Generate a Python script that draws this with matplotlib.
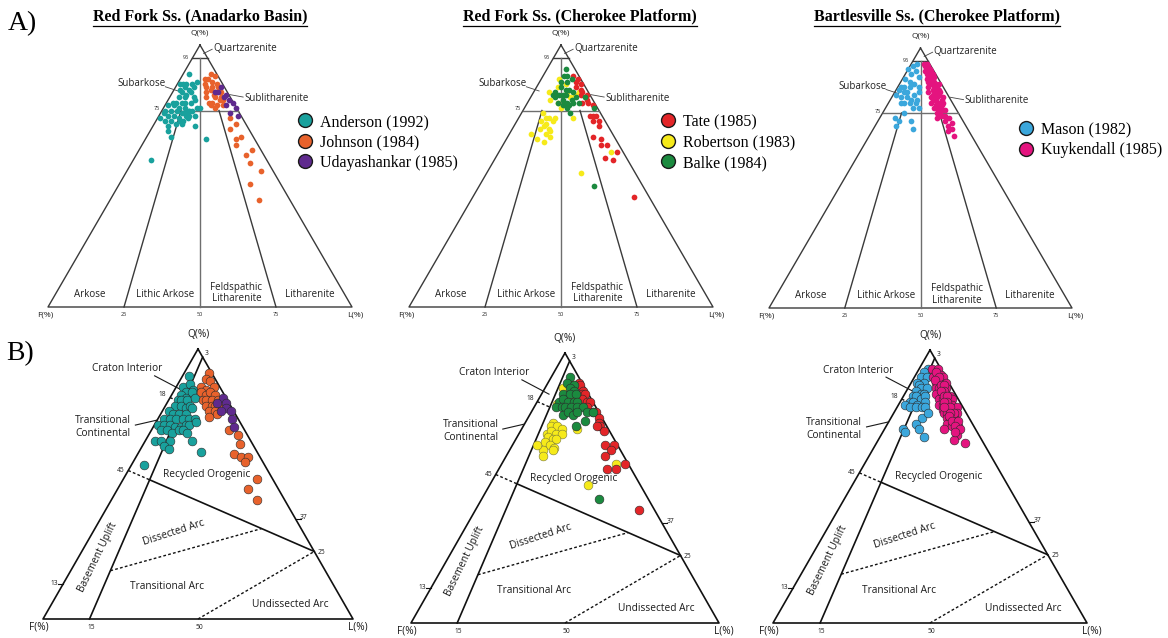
import matplotlib.pyplot as plt
from matplotlib.lines import Line2D
import numpy as np

# ---- sample compositions, percent (Q, F, L) ----
# Folk (1974) classification, top row
anderson_folk = [
    (89, 9, 2), (85, 14, 1), (85, 13, 2), (85, 12, 3), (85, 10, 5), (86, 8, 6), (83, 15, 2), (84, 13, 3),
    (83, 12, 5), (84, 10, 6), (82, 15, 3), (81, 14, 5), (82, 12, 6), (80, 17, 3), (80, 15, 5), (80, 12, 8),
    (78, 20, 2), (78, 19, 3), (78, 17, 5), (78, 16, 6), (78, 14, 8), (79, 12, 9), (77, 22, 1), (77, 20, 3),
    (76, 19, 5), (76, 17, 7), (75, 16, 9), (75, 15, 10), (76, 13, 11), (75, 24, 1), (74, 25, 1), (75, 22, 3),
    (75, 20, 5), (74, 19, 7), (75, 17, 8), (75, 16, 9), (76, 12, 12), (72, 27, 1), (73, 24, 3), (73, 22, 5),
    (72, 21, 7), (73, 18, 9), (73, 17, 10), (71, 26, 3), (71, 24, 5), (71, 21, 8), (71, 20, 9), (72, 18, 10),
    (73, 15, 12), (69, 26, 5), (70, 23, 7), (70, 21, 9), (67, 27, 6), (65, 27, 8), (69, 17, 14), (64, 16, 20),
    (56, 38, 6)]
johnson_folk = [
    (89, 2, 9), (88, 1, 11), (87, 5, 8), (87, 4, 9), (86, 3, 11), (85, 2, 13), (85, 6, 9), (84, 6, 10),
    (84, 4, 12), (84, 2, 14), (82, 7, 11), (83, 5, 12), (82, 4, 14), (82, 2, 16), (80, 8, 12), (81, 5, 14),
    (80, 5, 15), (80, 3, 17), (78, 8, 14), (78, 7, 15), (79, 4, 17), (79, 3, 18), (77, 8, 15), (77, 6, 17),
    (77, 4, 19), (76, 7, 17), (72, 4, 24), (70, 3, 27), (68, 6, 26), (65, 4, 31), (64, 6, 30), (62, 7, 31),
    (58, 6, 36), (60, 3, 37), (55, 6, 39), (52, 4, 44), (47, 10, 43), (41, 10, 49)]
udaya_folk = [
    (84, 1, 15), (82, 3, 15), (81, 1, 18), (80, 2, 18), (79, 1, 20), (78, 0, 22), (77, 3, 20), (76, 0, 24),
    (73, 1, 26), (74, 3, 23), (82, 4, 14)]
tate_folk = [
    (88, 2, 10), (87, 1, 12), (86, 2, 12), (85, 1, 14), (84, 3, 13), (83, 2, 15), (82, 2, 16), (81, 3, 16),
    (81, 1, 18), (79, 2, 19), (78, 4, 18), (78, 2, 20), (77, 1, 22), (73, 4, 23), (73, 3, 24), (73, 2, 25),
    (71, 4, 25), (71, 2, 27), (69, 3, 28), (65, 7, 28), (64, 5, 31), (62, 4, 34), (62, 6, 32), (57, 7, 36),
    (56, 5, 39), (59, 2, 39), (42, 5, 53)]
robertson_folk = [
    (87, 7, 6), (84, 9, 7), (85, 6, 9), (82, 13, 5), (79, 14, 7), (78, 12, 10), (82, 7, 11), (80, 7, 13),
    (81, 5, 14), (76, 12, 12), (72, 10, 18), (82, 3, 15), (74, 19, 7), (72, 19, 9), (72, 18, 10), (72, 16, 12),
    (71, 21, 8), (70, 20, 10), (71, 17, 12), (69, 21, 10), (68, 20, 12), (68, 23, 9), (67, 20, 13), (66, 22, 12),
    (66, 27, 7), (64, 26, 10), (63, 24, 13), (65, 21, 14), (59, 4, 37), (51, 18, 31)]
balke_folk = [
    (91, 3, 6), (88, 5, 7), (88, 4, 8), (86, 7, 7), (86, 5, 9), (87, 3, 10), (82, 11, 7), (84, 8, 8),
    (83, 7, 10), (83, 6, 11), (80, 12, 8), (81, 10, 9), (81, 9, 10), (81, 8, 11), (82, 5, 13), (78, 12, 10),
    (79, 10, 11), (78, 9, 13), (79, 7, 14), (80, 5, 15), (77, 11, 12), (77, 9, 14), (78, 7, 15), (78, 5, 17),
    (80, 2, 18), (76, 1, 23), (74, 10, 16), (76, 10, 14), (81, 12, 7), (46, 16, 38)]
mason_folk = [
    (93, 6, 1), (94, 4, 2), (92, 8, 0), (91, 6, 3), (90, 8, 2), (89, 6, 5), (88, 11, 1), (87, 10, 3),
    (86, 9, 5), (85, 8, 7), (85, 14, 1), (85, 13, 2), (85, 11, 4), (84, 15, 1), (83, 14, 3), (83, 13, 4),
    (82, 11, 7), (83, 9, 8), (82, 17, 1), (81, 16, 3), (81, 14, 5), (80, 13, 7), (80, 11, 9), (79, 17, 4),
    (79, 16, 5), (79, 14, 7), (79, 12, 9), (77, 12, 11), (77, 14, 9), (73, 22, 5), (72, 21, 7), (70, 23, 7),
    (75, 18, 7), (72, 17, 11), (69, 18, 13)]
kuykendall_folk = [
    (94, 2, 4), (94, 1, 5), (93, 2, 5), (92, 1, 7), (91, 3, 6), (91, 1, 8), (90, 1, 9), (89, 3, 8),
    (89, 2, 9), (89, 1, 10), (87, 4, 9), (87, 3, 10), (86, 2, 12), (85, 5, 10), (85, 3, 12), (85, 2, 13),
    (86, 1, 13), (83, 6, 11), (83, 4, 13), (83, 3, 14), (83, 2, 15), (81, 6, 13), (81, 5, 14), (81, 4, 15),
    (81, 2, 17), (79, 7, 14), (79, 5, 16), (79, 4, 17), (79, 3, 18), (77, 7, 16), (77, 6, 17), (77, 5, 18),
    (75, 7, 18), (75, 6, 19), (76, 4, 20), (73, 8, 19), (74, 6, 20), (73, 4, 23), (71, 4, 25), (70, 6, 24),
    (69, 5, 26), (68, 7, 25), (66, 6, 28), (93, 1, 6), (92, 2, 6), (90, 2, 8), (90, 3, 7), (88, 2, 10),
    (88, 4, 8), (87, 2, 11), (86, 3, 11), (86, 4, 10), (84, 4, 12), (84, 2, 14), (82, 3, 15), (82, 5, 13),
    (80, 3, 17), (80, 5, 15), (80, 6, 14), (78, 4, 18), (78, 6, 16), (76, 5, 19), (76, 6, 18), (74, 5, 21),
    (74, 7, 19), (72, 6, 22)]

# Dickinson (1983) provenance, bottom row
anderson_dick = [
    (90, 8, 2), (86, 12, 2), (87, 9, 4), (85, 9, 6), (84, 12, 4), (83, 14, 3), (82, 13, 5), (84, 10, 6),
    (81, 16, 3), (81, 15, 4), (81, 13, 6), (82, 10, 8), (79, 18, 3), (79, 16, 5), (78, 15, 7), (79, 13, 8),
    (77, 21, 2), (76, 20, 4), (76, 18, 6), (76, 16, 8), (78, 13, 9), (74, 24, 2), (74, 22, 4), (74, 20, 6),
    (74, 18, 8), (74, 16, 10), (74, 14, 12), (72, 27, 1), (72, 25, 3), (72, 23, 5), (71, 22, 7), (71, 20, 9),
    (72, 18, 10), (72, 17, 11), (73, 14, 13), (70, 27, 3), (70, 25, 5), (69, 24, 7), (70, 21, 9), (70, 20, 10),
    (69, 19, 12), (66, 31, 3), (66, 29, 5), (66, 26, 8), (66, 19, 15), (64, 29, 7), (63, 28, 9), (62, 18, 20),
    (57, 39, 4)]
johnson_dick = [
    (91, 1, 8), (89, 3, 8), (88, 2, 10), (86, 6, 8), (85, 5, 10), (86, 2, 12), (84, 7, 9), (83, 6, 11),
    (84, 4, 12), (83, 3, 14), (81, 8, 11), (81, 7, 12), (81, 5, 14), (81, 3, 16), (79, 8, 13), (79, 6, 15),
    (79, 5, 16), (79, 3, 18), (77, 8, 15), (77, 6, 17), (76, 6, 18), (75, 9, 16), (70, 5, 25), (68, 3, 29),
    (65, 4, 31), (61, 8, 31), (60, 6, 34), (60, 4, 36), (58, 6, 36), (52, 5, 43), (48, 10, 42), (44, 9, 47)]
udaya_dick = [(82, 1, 17), (80, 4, 16), (80, 1, 19), (78, 2, 20), (77, 4, 19), (77, 1, 22), (74, 2, 24), (71, 3, 26)]
tate_dick = [
    (89, 1, 10), (88, 1, 11), (86, 1, 13), (85, 2, 13), (85, 1, 14), (83, 3, 14), (82, 2, 16), (82, 1, 17),
    (80, 3, 17), (78, 2, 20), (78, 1, 21), (76, 1, 23), (74, 2, 24), (73, 2, 25), (71, 2, 27), (73, 3, 24),
    (66, 4, 30), (66, 1, 33), (64, 3, 33), (62, 6, 32), (57, 8, 35), (57, 5, 38), (59, 1, 40), (42, 5, 53)]
robertson_dick = [
    (87, 7, 6), (88, 3, 9), (83, 7, 10), (83, 5, 12), (81, 12, 7), (72, 10, 18), (74, 17, 9), (73, 18, 9),
    (73, 16, 11), (72, 15, 13), (70, 21, 9), (71, 19, 10), (70, 18, 12), (70, 16, 14), (69, 21, 10), (68, 20, 12),
    (68, 19, 13), (67, 23, 10), (66, 22, 12), (65, 21, 14), (64, 25, 11), (64, 22, 14), (62, 26, 12), (66, 26, 8),
    (59, 4, 37), (51, 17, 32)]
balke_dick = [
    (91, 3, 6), (89, 5, 6), (88, 3, 9), (87, 5, 8), (86, 4, 10), (85, 8, 7), (85, 6, 9), (85, 4, 11),
    (82, 11, 7), (83, 9, 8), (82, 8, 10), (82, 6, 12), (82, 5, 13), (80, 13, 7), (80, 11, 9), (80, 10, 10),
    (80, 8, 12), (80, 6, 14), (80, 4, 16), (77, 12, 11), (78, 10, 12), (77, 9, 14), (78, 7, 15), (78, 4, 18),
    (78, 2, 20), (75, 6, 19), (73, 10, 17), (46, 16, 38)]
mason_dick = [
    (93, 4, 3), (92, 6, 2), (90, 8, 2), (90, 6, 4), (88, 10, 2), (88, 8, 4), (87, 10, 3), (86, 10, 4),
    (86, 8, 6), (85, 12, 3), (84, 11, 5), (84, 10, 6), (83, 14, 3), (83, 13, 4), (82, 12, 6), (83, 10, 7),
    (81, 16, 3), (81, 15, 4), (80, 14, 6), (81, 11, 8), (80, 18, 2), (79, 17, 4), (79, 15, 6), (79, 13, 8),
    (79, 12, 9), (75, 15, 10), (77, 12, 11), (73, 18, 9), (71, 23, 6), (70, 23, 7), (71, 18, 11), (68, 18, 14)]
kuykendall_dick = [
    (93, 3, 4), (93, 1, 6), (91, 3, 6), (91, 2, 7), (91, 1, 8), (90, 4, 6), (89, 3, 8), (90, 1, 9),
    (88, 4, 8), (88, 3, 9), (88, 1, 11), (86, 5, 9), (86, 4, 10), (86, 2, 12), (84, 6, 10), (84, 4, 12),
    (84, 3, 13), (83, 2, 15), (82, 6, 12), (82, 5, 13), (82, 4, 14), (82, 2, 16), (80, 7, 13), (80, 6, 14),
    (80, 4, 16), (80, 3, 17), (78, 7, 15), (79, 5, 16), (78, 5, 17), (79, 2, 19), (77, 7, 16), (77, 6, 17),
    (76, 5, 19), (77, 3, 20), (75, 7, 18), (75, 6, 19), (75, 5, 20), (73, 8, 19), (73, 6, 21), (73, 5, 22),
    (71, 10, 19), (72, 7, 21), (72, 5, 23), (69, 7, 24), (67, 9, 24), (66, 6, 28), (92, 2, 6), (90, 2, 8),
    (89, 4, 7), (87, 3, 10), (87, 2, 11), (85, 3, 12), (85, 4, 11), (83, 4, 13), (83, 3, 14), (81, 4, 15),
    (81, 5, 14), (79, 4, 17), (79, 6, 15), (77, 4, 19), (77, 5, 18), (76, 6, 18), (74, 6, 20), (74, 4, 22),
    (72, 6, 22), (71, 5, 24), (70, 7, 23)]

titles = ["Red Fork Ss. (Anadarko Basin)", "Red Fork Ss. (Cherokee Platform)",
          "Bartlesville Ss. (Cherokee Platform)"]
groups = [
    [("Anderson (1992)", "#19a19d", anderson_folk, anderson_dick),
     ("Johnson (1984)", "#e8622c", johnson_folk, johnson_dick),
     ("Udayashankar (1985)", "#5f2a8e", udaya_folk, udaya_dick)],
    [("Tate (1985)", "#e32528", tate_folk, tate_dick),
     ("Robertson (1983)", "#f6ea1a", robertson_folk, robertson_dick),
     ("Balke (1984)", "#1b8a3f", balke_folk, balke_dick)],
    [("Mason (1982)", "#3ba7dc", mason_folk, mason_dick),
     ("Kuykendall (1985)", "#e4147f", kuykendall_folk, kuykendall_dick)],
]
draw_order = [[0, 1, 2], [1, 0, 2], [0, 1]]

W, H = 1168, 638
SQ = np.sqrt(3) / 2
SANS = "Open Sans"
SERIF = "Liberation Serif"


def xy(pts):
    a = np.asarray(pts, dtype=float)
    a = a / a.sum(axis=1, keepdims=True) * 100
    return a[:, 2] + a[:, 0] / 2, a[:, 0] * SQ


def meet(a0, a1, b0, b1):
    (x1, x2), (y1, y2) = xy([a0, a1])
    (x3, x4), (y3, y4) = xy([b0, b1])
    d = (x1 - x2) * (y3 - y4) - (y1 - y2) * (x3 - x4)
    t = ((x1 - x3) * (y3 - y4) - (y1 - y3) * (x3 - x4)) / d
    return x1 + t * (x2 - x1), y1 + t * (y2 - y1)


def panel_axes(fig, x_f, x_l, y_base, y_apex):
    # axes placed so the triangle lands on the given pixel corners
    sx = (x_l - x_f) / 100
    sy = (y_base - y_apex) / (100 * SQ)
    x0, x1, y0, y1 = -25, 125, -12, 100
    ax = fig.add_axes([(x_f + x0 * sx) / W, 1 - (y_base - y0 * sy) / H,
                       (x1 - x0) * sx / W, (y1 - y0) * sy / H])
    ax.set_xlim(x0, x1)
    ax.set_ylim(y0, y1)
    ax.axis("off")
    ax.patch.set_alpha(0)
    return ax


def seg(ax, p0, p1, **kw):
    x, y = xy([p0, p1])
    ax.plot(x, y, **kw)


def draw_folk(ax):
    dark = dict(color="#3a3a3a", lw=1.0)
    grey = dict(color="#6e6e6e", lw=1.0)
    x, y = xy([(100, 0, 0), (0, 100, 0), (0, 0, 100), (100, 0, 0)])
    ax.plot(x, y, **dark)
    seg(ax, (95, 5, 0), (95, 0, 5), **dark)
    seg(ax, (75, 25, 0), (75, 0, 25), **grey)
    seg(ax, (0, 50, 50), (95, 2.5, 2.5), **grey)
    seg(ax, (0, 75, 25), (75, 18.75, 6.25), **dark)
    seg(ax, (0, 25, 75), (75, 6.25, 18.75), **dark)

    t = dict(family=SANS, fontsize=7, color="#222222", ha="center", va="center")
    s = dict(family=SANS, fontsize=4, color="#222222", ha="center", va="center")
    lead = dict(color="#444444", lw=0.6)
    ax.text(50, 90.5, "Q(%)", **{**t, "fontsize": 6})
    ax.text(54.3, 85.3, "Quartzarenite", **{**t, "ha": "left"})
    ax.plot([51.2, 54.0], [83.8, 85.2], **lead)
    ax.text(46.3, 82.6, "95", **{**s, "ha": "right"})
    ax.text(30.8, 73.8, "Subarkose", **t)
    ax.plot([38.6, 42.8], [72.8, 71.4], **lead)
    ax.text(64.6, 69.0, "Sublitharenite", **{**t, "ha": "left"})
    ax.plot([59.8, 64.2], [70.2, 69.4], **lead)
    ax.text(36.8, 65.6, "75", **{**s, "ha": "right"})
    ax.text(13.8, 4.0, "Arkose", **t)
    ax.text(38.5, 4.0, "Lithic Arkose", **t)
    ax.text(62.0, 4.6, "Feldspathic\nLitharenite", linespacing=1.1, **t)
    ax.text(86.2, 4.0, "Litharenite", **t)
    ax.text(-1.0, -2.7, "F(%)", **{**t, "fontsize": 6})
    for v in (25, 50, 75):
        ax.text(v, -2.4, str(v), **s)
    ax.text(101.0, -2.7, "L(%)", **{**t, "fontsize": 6})


def draw_dickinson(ax):
    solid = dict(color="#111111", lw=1.2)
    dash = dict(color="#111111", lw=1.0, ls=(0, (2.0, 1.6)))
    x, y = xy([(100, 0, 0), (0, 100, 0), (0, 0, 100), (100, 0, 0)])
    ax.plot(x, y, **solid)
    b15, t3 = (0, 85, 15), (97, 0, 3)
    seg(ax, b15, t3, **solid)

    # recycled orogen / magmatic arc boundary
    q55, q25 = (55, 45, 0), (25, 0, 75)
    px, py = meet(q55, q25, b15, t3)
    (lx, rx), (ly, ry) = xy([q55, q25])
    ax.plot([lx, px], [ly, py], **dash)
    ax.plot([px, rx], [py, ry], **solid)

    # craton interior / transitional continental
    q82 = (82, 18, 0)
    cx, cy = meet(q82, (70, 0, 30), b15, t3)
    (ax0,), (ay0,) = xy([q82])
    ax.plot([ax0, cx], [ay0, cy], **dash)

    # dissected / transitional arc
    q13, q37 = (13, 87, 0), (37, 0, 63)
    d0 = meet(q13, q37, b15, t3)
    d1 = meet(q13, q37, q55, q25)
    ax.plot([d0[0], d1[0]], [d0[1], d1[1]], **dash)

    # transitional / undissected arc
    seg(ax, (0, 50, 50), q25, **dash)

    (tx0, tx1), (ty0, ty1) = xy([q13, q37])
    ax.plot([tx0 - 1.6, tx0], [ty0, ty0], color="#111111", lw=0.8)
    ax.plot([tx1, tx1 + 1.6], [ty1, ty1], color="#111111", lw=0.8)

    t = dict(family=SANS, fontsize=7.3, color="#1a1a1a", ha="center", va="center")
    s = dict(family=SANS, fontsize=4.8, color="#1a1a1a", ha="center", va="center")
    lead = dict(color="#1a1a1a", lw=0.8)
    ax.text(50, 91.2, "Q(%)", **t)
    ax.text(52.0, 85.2, "3", **{**s, "ha": "left"})
    ax.text(27.0, 80.2, "Craton Interior", **t)
    ax.plot([36.0, 44.8], [78.0, 73.4], **lead)
    ax.text(39.8, 72.0, "18", **{**s, "ha": "right"})
    ax.text(19.4, 61.6, "Transitional\nContinental", linespacing=1.25, **t)
    ax.plot([29.8, 36.8], [62.2, 63.8], **lead)
    ax.text(26.4, 47.7, "45", **{**s, "ha": "right"})
    ax.text(52.8, 46.5, "Recycled Orogenic", **t)
    ax.text(17.6, 19.8, "Basement Uplift", rotation=64, **t)
    ax.text(42.0, 27.6, "Dissected Arc", rotation=18, **t)
    ax.text(40.0, 10.4, "Transitional Arc", **t)
    ax.text(79.6, 4.5, "Undissected Arc", **t)
    ax.text(-1.4, -2.6, "F(%)", **t)
    ax.text(15.5, -2.6, "15", **s)
    ax.text(50.5, -2.6, "50", **s)
    ax.text(101.6, -2.6, "L(%)", **t)
    ax.text(tx1 + 1.4, ty1 + 0.6, "37", **{**s, "ha": "left"})
    ax.text(88.6, 21.4, "25", **{**s, "ha": "left"})
    ax.text(tx0 - 1.6, ty0, "13", **{**s, "ha": "right"})


fig = plt.figure(figsize=(W / 100, H / 100), dpi=100)
fig.patch.set_facecolor("white")

top_px = [(48, 352, 307, 45), (409, 713, 307, 45), (769, 1072, 308, 48)]
bot_px = [(43, 353, 619, 349), (411, 719, 623, 353), (773, 1087, 623, 350)]
legend_px = [(297, 114), (660, 114), (1018, 122)]
title_x = [200, 580, 937]

for i in range(3):
    ax_a = panel_axes(fig, *top_px[i])
    draw_folk(ax_a)
    ax_b = panel_axes(fig, *bot_px[i])
    draw_dickinson(ax_b)
    for k in draw_order[i]:
        name, color, folk_pts, dick_pts = groups[i][k]
        x, y = xy(folk_pts)
        ax_a.scatter(x, y, s=17, color=color, linewidths=0, zorder=3)
        x, y = xy(dick_pts)
        edge = "#7a7a3a" if color == "#f6ea1a" else "#2a2a2a"
        ax_b.scatter(x, y, s=40, color=color, edgecolors=edge, linewidths=0.4, zorder=3)

    handles = [Line2D([], [], ls="none", marker="o", markersize=10, markerfacecolor=c,
                      markeredgecolor="#1a1a1a", markeredgewidth=1.0) for _, c, _, _ in groups[i]]
    fig.legend(handles, [g[0] for g in groups[i]], loc="upper left",
               bbox_to_anchor=(legend_px[i][0] / W, 1 - legend_px[i][1] / H),
               frameon=False, prop={"family": SERIF, "size": 11.5}, handlelength=1.0,
               handletextpad=0.45, labelspacing=0.28, borderpad=0, borderaxespad=0)

title_texts = [fig.text(title_x[i] / W, 1 - 16 / H, titles[i], family=SERIF, fontsize=11.5,
                        fontweight="bold", ha="center", va="center") for i in range(3)]
fig.text(8 / W, 1 - 24 / H, "A)", family=SERIF, fontsize=20, va="center")
fig.text(6 / W, 1 - 354 / H, "B)", family=SERIF, fontsize=20, va="center")

# underline the panel titles
fig.canvas.draw()
renderer = fig.canvas.get_renderer()
for t in title_texts:
    bb = t.get_window_extent(renderer)
    yline = (bb.y0 - 1.5) / H
    fig.add_artist(Line2D([bb.x0 / W, bb.x1 / W], [yline, yline], color="black", lw=0.9,
                          transform=fig.transFigure))

fig.savefig("out.png", dpi=100)
